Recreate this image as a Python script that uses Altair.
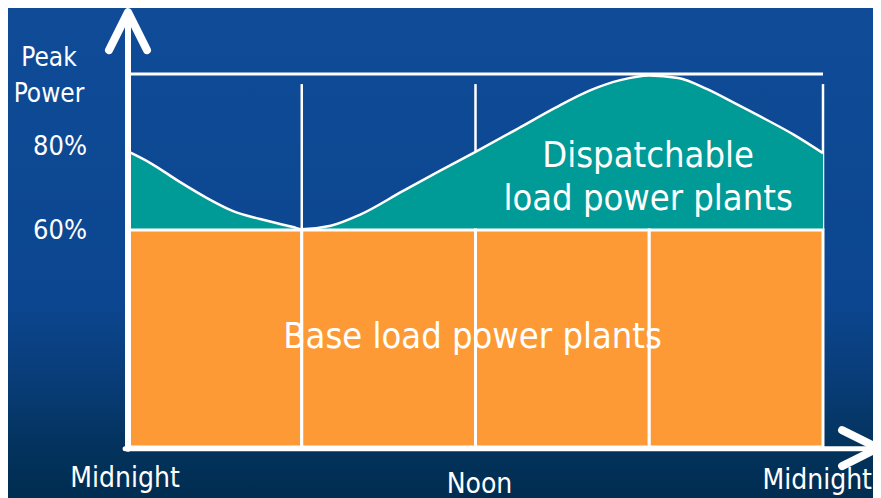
import altair as alt
import pandas as pd

# ---- data ----
hours = [0, 0.76, 1.8, 2.73, 3.63, 4.56, 5.7, 6, 7, 8, 9.5, 10.75, 12,
         13.5, 14.75, 16, 17, 18, 19, 20, 21, 22, 23, 24]
load = [78.7, 76.0, 71.4, 67.6, 64.5, 62.6, 60.7, 60.2, 61.0, 63.6, 69.3, 74.0, 78.6,
        85.0, 90.6, 95.6, 98.3, 99.6, 98.9, 95.8, 91.7, 87.5, 83.1, 78.3]
base_level = 60
peak_level = 100
block_start = [0, 6, 12, 18]
block_end = [6, 12, 18, 24]
grid_hours = [6, 12, 18, 24]
grid_top = 97.2
y_tick_values = [80, 60]
y_tick_labels = ["80%", "60%"]
x_label_hours = [0, 12, 24]
x_labels = ["Midnight", "Noon", "Midnight"]
y_title = ["Peak", "Power"]
dispatch_text = ["Dispatchable", "load power plants"]
dispatch_pos = (17.96, 75.0)
base_text = "Base load power plants"
base_pos = (11.9, 27.4)

# axis arrow geometry (data units)
y_axis_top = 117.2
y_head = (0, 111.9)
x_axis_end = 25.9
x_head = (25.28, -0.3)
axis_level = -0.5

TEAL = "#009a97"
ORANGE = "#fe9a35"
FONT = "DejaVu Sans Condensed, Liberation Sans, sans-serif"

x_scale = alt.Scale(domain=[0, 24], nice=False, zero=False)
y_scale = alt.Scale(domain=[0, 60, 80, 100], range=[373, 156, 72, 0], nice=False, zero=False)


def X(f, **kw):
    return alt.X(f, type="quantitative", scale=x_scale, axis=None, **kw)


def Y(f, **kw):
    return alt.Y(f, type="quantitative", scale=y_scale, axis=None, **kw)


one = pd.DataFrame({"a": [0]})

bg = alt.Chart(one).mark_rect(
    fill=alt.Gradient(
        gradient="linear", x1=0, x2=0, y1=0, y2=1,
        stops=[alt.GradientStop(offset=0, color="#0f4b97"),
               alt.GradientStop(offset=0.6, color="#0c4690"),
               alt.GradientStop(offset=0.76, color="#093d78"),
               alt.GradientStop(offset=0.89, color="#03335e"),
               alt.GradientStop(offset=1, color="#002d50")]),
    strokeWidth=0,
).encode(x=alt.value(-120), x2=alt.value(745), y=alt.value(-66), y2=alt.value(424))

grid_df = pd.DataFrame({"h": grid_hours, "top": [grid_top] * 4, "bot": [base_level] * 4})
grid = alt.Chart(grid_df).mark_rule(color="white", strokeWidth=2.5).encode(
    x=X("h"), y=Y("top"), y2="bot")

top_df = pd.DataFrame({"x0": [0.1], "x1": [24], "y": [peak_level]})
top_line = alt.Chart(top_df).mark_rule(color="white", strokeWidth=3).encode(
    x=X("x0"), x2="x1", y=Y("y"))

curve_df = pd.DataFrame({"hour": hours, "load": load, "base": [base_level] * len(hours)})
area = alt.Chart(curve_df).mark_area(color=TEAL, interpolate="monotone", opacity=1).encode(
    x=X("hour"), y=Y("load"), y2="base")
curve = alt.Chart(curve_df).mark_line(color="white", strokeWidth=2.5, interpolate="monotone").encode(
    x=X("hour"), y=Y("load"))

blocks_df = pd.DataFrame({"s": block_start, "e": block_end, "b": [0] * 4, "t": [base_level] * 4})
blocks = alt.Chart(blocks_df).mark_rect(fill=ORANGE, stroke="white", strokeWidth=3).encode(
    x=X("s"), x2="e", y=Y("b"), y2="t")

yax_df = pd.DataFrame({"x": [0], "y0": [axis_level], "y1": [y_axis_top]})
yax = alt.Chart(yax_df).mark_rule(color="white", strokeWidth=6, strokeCap="round").encode(
    x=X("x"), y=Y("y0"), y2="y1")
xax_df = pd.DataFrame({"x0": [-0.1], "x1": [x_axis_end], "y": [axis_level]})
xax = alt.Chart(xax_df).mark_rule(color="white", strokeWidth=5, strokeCap="round").encode(
    x=X("x0"), x2="x1", y=Y("y"))

yhead = alt.Chart(pd.DataFrame({"x": [y_head[0]], "y": [y_head[1]]})).mark_point(
    shape="M-1,1L0,-1L1,1", filled=False, stroke="white", strokeWidth=8,
    strokeCap="round", strokeJoin="round", size=1444, opacity=1).encode(x=X("x"), y=Y("y"))
xhead = alt.Chart(pd.DataFrame({"x": [x_head[0]], "y": [x_head[1]]})).mark_point(
    shape="M-1,-1L1,0L-1,1", filled=False, stroke="white", strokeWidth=8,
    strokeCap="round", strokeJoin="round", size=1296, opacity=1).encode(x=X("x"), y=Y("y"))

ticks_df = pd.DataFrame({"v": y_tick_values, "lab": y_tick_labels})
ticks = alt.Chart(ticks_df).mark_text(
    color="white", font=FONT, fontSize=27, align="left", baseline="middle", dy=1).encode(
    x=alt.value(-95), y=Y("v"), text="lab:N")

ytitle = alt.Chart(one).mark_text(
    color="white", font=FONT, fontSize=26, align="center", baseline="alphabetic", lineHeight=36).encode(
    x=alt.value(-79), y=alt.value(-8), text=alt.value(y_title))

xl_df = pd.DataFrame({"h": x_label_hours, "lab": x_labels})
xlab_left = alt.Chart(xl_df).transform_filter(
    (alt.datum.lab == "Midnight") & (alt.datum.h == 0)).mark_text(
    color="white", font=FONT, fontSize=28, align="center", baseline="alphabetic", dx=-3).encode(
    x=X("h"), y=alt.value(413), text="lab:N")
xlab_right = alt.Chart(xl_df).transform_filter(
    (alt.datum.lab == "Midnight") & (alt.datum.h == 24)).mark_text(
    color="white", font=FONT, fontSize=28, align="right", baseline="alphabetic").encode(
    x=alt.value(744), y=alt.value(415), text="lab:N")
xlab_noon = alt.Chart(xl_df).transform_filter(alt.datum.lab == "Noon").mark_text(
    color="white", font=FONT, fontSize=28, align="center", baseline="alphabetic", dx=4).encode(
    x=X("h"), y=alt.value(419), text="lab:N")

disp = alt.Chart(pd.DataFrame({"x": [dispatch_pos[0]], "y": [dispatch_pos[1]]})).mark_text(
    color="white", font=FONT, fontSize=36, align="center", baseline="alphabetic", lineHeight=43).encode(
    x=X("x"), y=Y("y"), text=alt.value(dispatch_text))

base = alt.Chart(pd.DataFrame({"x": [base_pos[0]], "y": [base_pos[1]], "t": [base_text]})).mark_text(
    color="white", font=FONT, fontSize=36, align="center", baseline="alphabetic").encode(
    x=X("x"), y=Y("y"), text="t:N")

chart = alt.layer(
    bg, grid, top_line, area, curve, blocks, yax, xax, yhead, xhead,
    ticks, ytitle, xlab_left, xlab_right, xlab_noon, disp, base
).properties(
    width=695, height=373,
    padding={"left": 120, "top": 66, "right": 50, "bottom": 51},
    autosize=alt.AutoSizeParams(type="none"),
    background="#0c4690",
).configure_view(stroke=None)

chart.save("out.html", embed_options={"renderer": "svg", "actions": False})
